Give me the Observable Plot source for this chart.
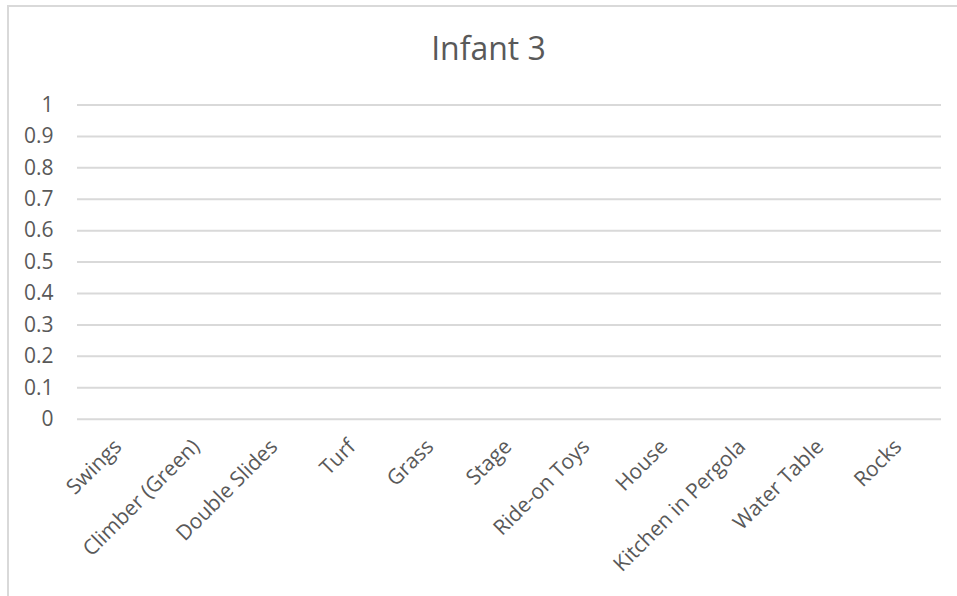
<!DOCTYPE html>
<html>
<head>
<meta charset="utf-8">
<script src="https://cdn.jsdelivr.net/npm/d3@7"></script>
<script src="https://cdn.jsdelivr.net/npm/@observablehq/plot@0.6"></script>
<style>
  html, body { margin: 0; padding: 0; background: #fff; overflow: hidden; }
  #wrap { position: relative; width: 957px; height: 596px; overflow: hidden; }
  #frame { position: absolute; left: 7px; top: 5px; width: 980px; height: 620px; border: 2px solid #d9d9d9; box-sizing: border-box; }
  #title { position: absolute; left: 0; width: 977px; top: 26px; text-align: center; font-family: "Open Sans", sans-serif; font-size: 32px; color: #595959; }
  #chart { position: absolute; left: 0; top: 0; }
  #chart svg text { font-size: 21px; }
</style>
</head>
<body>
<div id="wrap">
  <div id="frame"></div>
  <div id="chart"></div>
  <div id="title">Infant 3</div>
</div>
<script>
const categories = ["Swings", "Climber (Green)", "Double Slides", "Turf", "Grass", "Stage", "Ride-on Toys", "House", "Kitchen in Pergola", "Water Table", "Rocks"];
const values = [0, 0, 0, 0, 0, 0, 0, 0, 0, 0, 0];
const yTicks = [0, 0.1, 0.2, 0.3, 0.4, 0.5, 0.6, 0.7, 0.8, 0.9, 1];

const data = categories.map((c, i) => ({category: c, value: values[i]}));

const chart = Plot.plot({
  width: 957,
  height: 596,
  marginLeft: 77,
  marginRight: 16,
  marginTop: 104.5,
  marginBottom: 177.3,
  style: {fontFamily: "'Open Sans', sans-serif", fontSize: "21px", color: "#595959", background: "transparent"},
  x: {domain: categories, paddingInner: 0.4, paddingOuter: 0.2},
  y: {domain: [0, 1]},
  marks: [
    Plot.gridY(yTicks, {stroke: "#d9d9d9", strokeOpacity: 1, strokeWidth: 2}),
    Plot.barY(data, {x: "category", y: "value", fill: "#4472c4"}),
    Plot.axisY(yTicks, {tickSize: 0, tickPadding: 24, tickFormat: d => String(+d.toFixed(1)), fill: "#595959", label: null}),
    Plot.axisX({tickSize: 0, tickPadding: 18, tickRotate: -45, dx: -2, dy: 6, fill: "#595959", label: null})
  ]
});
document.getElementById("chart").appendChild(chart);
</script>
</body>
</html>
